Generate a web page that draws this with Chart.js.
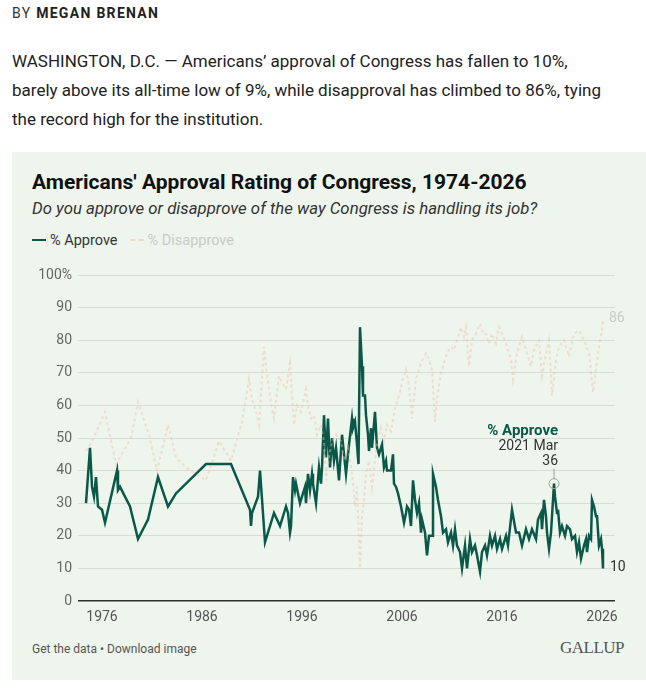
<!DOCTYPE html>
<html>
<head>
<meta charset="utf-8">
<script src="https://cdn.jsdelivr.net/npm/chart.js@4.4.1/dist/chart.umd.min.js"></script>
<style>
	body { margin: 0; background: #fff; font-family: Roboto, "Noto Sans", sans-serif; color: #222; }
	.page { position: relative; width: 646px; height: 690px; overflow: hidden; }
	.byline { position: absolute; left: 12px; top: 4px; font-size: 14px; line-height: 18px; letter-spacing: 1.3px; color: #333; }
	.byline b { color: #222; }
	.lede { position: absolute; left: 12px; top: 47px; font-size: 17px; line-height: 29px; letter-spacing: 0; color: #222; white-space: nowrap; }
	.card { position: absolute; left: 12px; top: 152px; width: 634px; height: 528px; background: #eef5ed; }
	.title { position: absolute; left: 20px; top: 18px; font-size: 21px; font-weight: bold; color: #111; white-space: nowrap; }
	.subtitle { position: absolute; left: 20px; top: 46px; font-size: 16.8px; font-style: italic; color: #333; white-space: nowrap; }
	.legend { position: absolute; left: 20px; top: 80px; font-size: 14.5px; color: #333; white-space: nowrap; }
	.legend span.key { display: inline-block; width: 14px; height: 0; vertical-align: middle; margin-right: 4px; position: relative; top: -1px; }
	.legend .off { color: #c8cbc8; margin-left: 12px; }
	.footer { position: absolute; left: 20px; top: 490px; font-size: 12px; color: #555; }
	.brand { position: absolute; right: 22px; top: 486px; font-family: "Liberation Serif", "DejaVu Serif", serif; font-size: 17px; color: #555; letter-spacing: -0.5px; }
	#chartBox { position: absolute; left: 0; top: 108px; width: 634px; height: 370px; }
</style>
</head>
<body>
<div class="page">
	<div class="byline">BY <b>MEGAN BRENAN</b></div>
	<div class="lede">WASHINGTON, D.C. — Americans’ approval of Congress has fallen to 10%,<br>barely above its all-time low of 9%, while disapproval has climbed to 86%, tying<br>the record high for the institution.</div>
	<div class="card">
		<div class="title">Americans' Approval Rating of Congress, 1974-2026</div>
		<div class="subtitle">Do you approve or disapprove of the way Congress is handling its job?</div>
		<div class="legend"><span class="key" style="border-top:2.5px solid #0a5848"></span>% Approve<span class="off"><span class="key" style="border-top:2px dashed #f1d5c3"></span>% Disapprove</span></div>
		<div id="chartBox"><canvas id="chart" width="634" height="370"></canvas></div>
		<div class="footer">Get the data • Download image</div>
		<div class="brand">GALLUP</div>
	</div>
</div>
<script>
// year (decimal) and % values
var approveYears = [1974.4, 1974.8, 1975.0, 1975.2, 1975.4, 1975.6, 1976.0, 1976.3, 1977.5, 1977.6, 1977.8, 1978.8, 1979.6, 1980.6, 1981.6, 1982.6, 1983.4, 1986.4, 1988.9,
	1990.8, 1990.9, 1991.0, 1991.6, 1991.8, 1992.3, 1993.2, 1993.8, 1994.4, 1994.6, 1994.8, 1994.9, 1995.1, 1995.3, 1995.4, 1995.6, 1995.8,
	1996.0, 1996.3, 1996.4, 1996.6, 1996.8, 1997.0, 1997.1, 1997.4, 1997.7, 1997.9, 1998.0, 1998.2, 1998.4, 1998.6, 1998.8, 1999.0, 1999.2, 1999.4, 1999.7,
	2000.0, 2000.4, 2000.7, 2001.0, 2001.1, 2001.3, 2001.5, 2001.65, 2001.8, 2002.0, 2002.1, 2002.3, 2002.4, 2002.6, 2002.7, 2002.9,
	2003.0, 2003.3, 2003.5, 2003.7, 2004.0, 2004.2, 2004.4, 2004.5, 2004.9, 2005.1, 2005.2, 2005.4, 2005.6, 2005.9,
	2006.2, 2006.4, 2006.5, 2006.7, 2006.9, 2007.1, 2007.3, 2007.5, 2007.7, 2007.9, 2008.0, 2008.3, 2008.5, 2008.7,
	2009.0, 2009.1, 2009.4, 2009.6, 2009.9, 2010.1, 2010.4, 2010.6, 2010.9, 2011.1, 2011.3, 2011.5, 2011.8,
	2012.0, 2012.3, 2012.5, 2012.8, 2013.0, 2013.3, 2013.5, 2013.8, 2014.0, 2014.3, 2014.5, 2014.8, 2015.0, 2015.3, 2015.5, 2015.8,
	2016.0, 2016.4, 2016.6, 2017.0, 2017.4, 2017.7, 2018.0, 2018.4, 2018.7, 2019.0, 2019.4, 2019.6, 2019.9,
	2020.0, 2020.2, 2020.4, 2020.5, 2020.7, 2020.9, 2021.2, 2021.3, 2021.5, 2021.6, 2021.8, 2022.0, 2022.3, 2022.5, 2022.8,
	2023.0, 2023.3, 2023.5, 2023.7, 2023.9, 2024.2, 2024.4, 2024.5, 2024.7, 2024.9, 2025.0, 2025.2, 2025.4, 2025.5, 2025.7, 2025.9, 2026.0, 2026.1];
var approveValues = [30, 47, 35, 32, 38, 29, 28, 24, 40, 34, 35, 29, 19, 25, 38, 29, 33, 42, 42,
	28, 23, 27, 32, 40, 18, 27, 23, 29, 27, 21, 23, 38, 34, 36, 33, 30,
	32, 35, 30, 39, 34, 39, 36, 30, 41, 36, 41, 57, 44, 56, 41, 50, 43, 47, 37,
	51, 39, 48, 56, 53, 55, 48, 42, 84, 72, 63, 63, 57, 51, 46, 53,
	47, 58, 47, 45, 48, 41, 43, 40, 40, 45, 36, 35, 33, 29,
	24, 27, 29, 28, 23, 37, 31, 27, 30, 21, 25, 21, 14, 20,
	20, 39, 35, 31, 26, 21, 22, 18, 21, 17, 22, 17, 15,
	10, 17, 10, 19, 15, 17, 14, 9, 15, 17, 14, 20, 17, 20, 16, 19,
	16, 20, 17, 28, 21, 21, 17, 22, 19, 22, 19, 25, 27,
	22, 31, 26, 21, 16, 21, 36, 32, 27, 28, 21, 23, 20, 23, 22,
	19, 20, 15, 18, 13, 17, 19, 15, 20, 19, 31, 29, 26, 26, 17, 19, 16, 10];

var disapproveYears = [1974.4, 1975.0, 1976.3, 1977.4, 1978.9, 1979.6, 1980.7, 1981.5, 1982.6, 1983.4, 1984.4, 1986.4, 1987.7, 1988.9,
	1990.0, 1990.7, 1991.0, 1991.4, 1991.7, 1992.2, 1992.4, 1992.7, 1993.0, 1993.2, 1993.7, 1994.0, 1994.4, 1994.8,
	1995.0, 1995.2, 1995.5, 1995.9, 1996.4, 1996.6, 1996.9, 1997.2, 1997.5, 1997.9, 1998.2, 1998.4, 1998.7, 1999.0, 1999.4, 1999.9,
	2000.2, 2000.6, 2001.0, 2001.3, 2001.5, 2001.8, 2002.0, 2002.2, 2002.4, 2002.7, 2003.0, 2003.3, 2003.5, 2003.9,
	2004.2, 2004.5, 2004.9, 2005.3, 2005.7, 2006.0, 2006.4, 2006.7, 2007.0, 2007.4, 2007.9, 2008.4, 2008.7,
	2009.0, 2009.3, 2009.5, 2009.9, 2010.2, 2010.5, 2010.9, 2011.2, 2011.5, 2011.9, 2012.2, 2012.4, 2012.7,
	2013.0, 2013.4, 2013.8, 2014.1, 2014.4, 2014.7, 2015.0, 2015.4, 2015.7, 2016.0, 2016.5, 2016.9, 2017.1, 2017.5,
	2018.0, 2018.4, 2018.9, 2019.2, 2019.7, 2020.0, 2020.4, 2020.7, 2021.0, 2021.4, 2021.7, 2022.2, 2022.7,
	2023.2, 2023.7, 2024.2, 2024.7, 2025.1, 2025.4, 2025.7, 2026.0, 2026.1];
var disapproveValues = [46, 49, 58, 42, 50, 61, 51, 40, 54, 44, 41, 37, 49, 43,
	55, 68, 62, 58, 54, 78, 72, 65, 59, 56, 69, 67, 65, 73,
	63, 54, 60, 58, 65, 60, 56, 57, 51, 54, 49, 37, 44, 49, 51, 49,
	43, 47, 39, 29, 35, 10, 26, 31, 39, 43, 35, 43, 48, 53,
	49, 54, 52, 59, 63, 67, 71, 66, 56, 68, 73, 76, 74,
	71, 55, 62, 70, 73, 76, 78, 77, 80, 84, 81, 84, 72,
	80, 82, 85, 82, 82, 79, 82, 79, 84, 82, 78, 74, 68, 76,
	81, 77, 72, 77, 80, 69, 76, 80, 63, 74, 78, 80, 75,
	82, 83, 80, 76, 64, 71, 78, 83, 86];

var yearTicks = [1976, 1986, 1996, 2006, 2016, 2026];
var valueTicks = [0, 10, 20, 30, 40, 50, 60, 70, 80, 90, 100];

// highlighted point: 2021 Mar
var highlightYear = 2021.2;
var highlightLabel = "2021 Mar";

var approveColor = "#0a5848";
var disapproveColor = "rgba(236, 192, 166, 0.45)";

function toPoints(xs, ys)
{
	var pts = [];
	for(var i = 0; i < xs.length; i++)
	{
		pts.push({x: xs[i], y: ys[i]});
	}
	return pts;
}

var labelPlugin = {
	id: "labels",
	afterDatasetsDraw: function(chart)
	{
		var ctx = chart.ctx;
		var xs = chart.scales.x;
		var ys = chart.scales.y;
		ctx.save();
		ctx.font = "14px Roboto";
		ctx.textBaseline = "middle";
		ctx.textAlign = "left";

		// end labels
		var lastA = approveValues.length - 1;
		ctx.fillStyle = "#333";
		ctx.fillText(String(approveValues[lastA]), xs.getPixelForValue(approveYears[lastA]) + 7, ys.getPixelForValue(approveValues[lastA]) - 1);
		var lastD = disapproveValues.length - 1;
		ctx.fillStyle = "#c9ccc9";
		ctx.fillText(String(disapproveValues[lastD]), xs.getPixelForValue(disapproveYears[lastD]) + 6, ys.getPixelForValue(disapproveValues[lastD]) - 2);

		// highlight annotation
		var hi = approveYears.indexOf(highlightYear);
		var px = xs.getPixelForValue(approveYears[hi]);
		var py = ys.getPixelForValue(approveValues[hi]);
		ctx.strokeStyle = "#9a9e9a";
		ctx.lineWidth = 1;
		ctx.beginPath();
		ctx.arc(px, py, 5, 0, Math.PI * 2);
		ctx.stroke();
		ctx.beginPath();
		ctx.moveTo(px, py - 5);
		ctx.lineTo(px, py - 15);
		ctx.stroke();
		ctx.textAlign = "right";
		ctx.font = "14px Roboto";
		ctx.fillStyle = "#333";
		ctx.fillText(String(approveValues[hi]), px + 4, py - 22);
		ctx.fillText(highlightLabel, px + 4, py - 37);
		ctx.font = "bold 15px Roboto";
		ctx.fillStyle = approveColor;
		ctx.fillText("% Approve", px + 4, py - 52);
		ctx.restore();
	}
};

var chart = new Chart(document.getElementById("chart"), {
	type: "line",
	data: {
		datasets: [{
			label: "% Disapprove",
			data: toPoints(disapproveYears, disapproveValues),
			borderColor: disapproveColor,
			borderWidth: 2,
			borderDash: [3, 3],
			pointRadius: 0,
			tension: 0
		}, {
			label: "% Approve",
			data: toPoints(approveYears, approveValues),
			borderColor: approveColor,
			borderWidth: 2.5,
			pointRadius: 0,
			tension: 0
		}]
	},
	options: {
		responsive: false,
		maintainAspectRatio: false,
		animation: false,
		layout: { padding: { left: 0, right: 31, top: 15, bottom: 0 } },
		plugins: {
			legend: { display: false },
			tooltip: { enabled: false }
		},
		scales: {
			x: {
				type: "linear",
				min: 1973.6,
				max: 2027.3,
				afterBuildTicks: function(axis) { axis.ticks = yearTicks.map(function(v) { return {value: v}; }); },
				afterFit: function(axis) { axis.height = 29; },
				grid: { display: false, drawTicks: false },
				border: { display: false },
				ticks: { color: "#555", font: { size: 14, family: "Roboto" }, padding: 8, maxRotation: 0, callback: function(v) { return String(v); } }
			},
			y: {
				min: 0,
				max: 100,
				afterBuildTicks: function(axis) { axis.ticks = valueTicks.map(function(v) { return {value: v}; }); },
				afterFit: function(axis) { axis.width = 66; },
				grid: {
					drawTicks: false,
					color: function(c) { return c.tick && c.tick.value === 0 ? "#2a2f2c" : "#d8dcd7"; },
					lineWidth: function(c) { return c.tick && c.tick.value === 0 ? 1.5 : 1; }
				},
				border: { display: false },
				ticks: { color: "#666", font: { size: 14, family: "Roboto" }, padding: 6, callback: function(v) { return v === 100 ? "100%" : String(v); } }
			}
		}
	},
	plugins: [labelPlugin]
});
</script>
</body>
</html>
